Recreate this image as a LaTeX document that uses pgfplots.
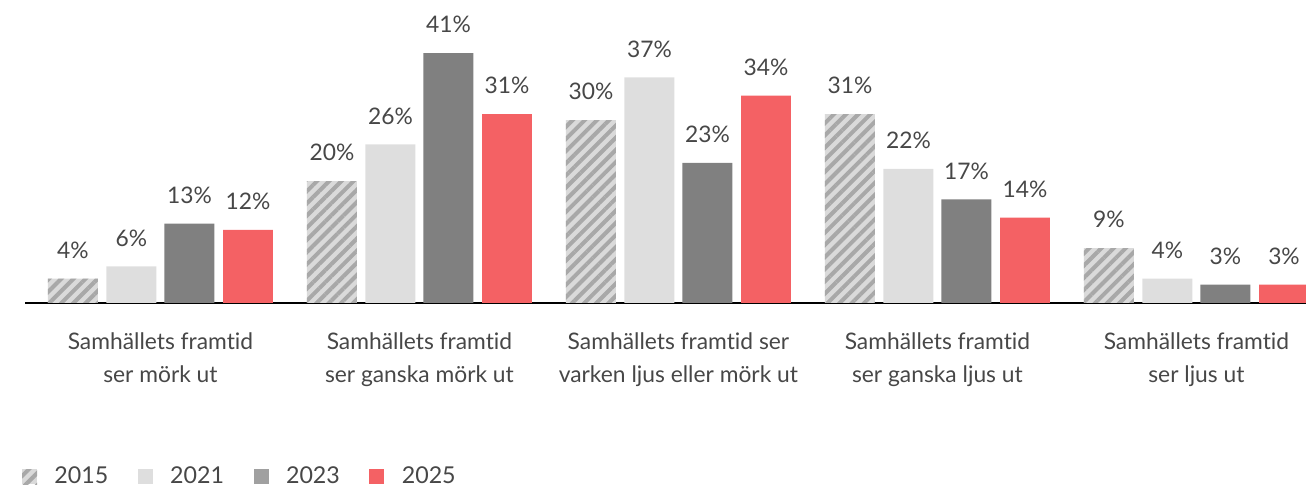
\documentclass[border=0pt]{standalone}
\usepackage{fontspec}
\setmainfont{Lato}[Ligatures=NoCommon]
\usepackage{pgfplots}
\pgfplotsset{compat=1.18}
\usetikzlibrary{patterns.meta}

\definecolor{txt}{HTML}{474747}
\definecolor{hatchbg}{HTML}{DADADA}
\definecolor{hatchfg}{HTML}{A8A8A8}
\definecolor{c2021}{HTML}{DEDEDE}
\definecolor{c2023}{HTML}{808080}
\definecolor{l2023}{HTML}{A0A0A0}
\definecolor{c2025}{HTML}{F46164}

\begin{document}
\begin{tikzpicture}
% 1 px of the reference = 0.5pt
\useasboundingbox (-12.5pt,-91.5pt) rectangle (640.5pt,151.5pt);
\begin{axis}[
    scale only axis,
    width=640.5pt, height=151.5pt,
    xmin=-0.523, xmax=4.423,
    ymin=0, ymax=49.7,
    ybar, bar width=0.193,
    clip=false,
    axis x line*=bottom,
    axis y line=none,
    axis line style={black, line width=1.3pt},
    xtick={0,1,2,3,4},
    major tick length=0pt,
    xticklabels={
        {Samhällets framtid\\ser mörk ut},
        {Samhällets framtid\\ser ganska mörk ut},
        {Samhällets framtid ser\\varken ljus eller mörk ut},
        {Samhällets framtid\\ser ganska ljus ut},
        {Samhällets framtid\\ser ljus ut}},
    xticklabel style={align=center, anchor=north, inner sep=0pt, yshift=-14.5pt,
        text=txt, font=\fontsize{11.4}{16.5}\selectfont},
    ytick=\empty,
    /pgf/number format/assume math mode=true,
    nodes near coords={\pgfmathprintnumber{\pgfplotspointmeta}\%},
    every node near coord/.append style={font=\fontsize{11.4}{12}\selectfont,
        text=txt, inner sep=0pt, anchor=south, yshift=9.8pt},
    legend columns=4,
    legend style={at={(axis description cs:0,0)}, anchor=west,
        xshift=-1.5pt, yshift=-86.8pt, draw=none, fill=none,
        inner sep=0pt, outer sep=0pt,
        font=\fontsize{11.6}{13}\selectfont, text=txt,
        /tikz/every odd column/.append style={column sep=6.7pt},
        /tikz/every even column/.append style={column sep=12.8pt}},
    legend image code/.code={\fill[#1] (0pt,-3.75pt) rectangle (7.5pt,3.75pt);},
]
\addplot[fill=hatchbg, draw=none, bar shift=-0.338,
    postaction={pattern={Lines[angle=45, distance=4.3pt, line width=2pt]}, pattern color=hatchfg}]
    coordinates {(0,4) (1,20) (2,30) (3,31) (4,9)};
\addplot[fill=c2021, draw=none, bar shift=-0.112]
    coordinates {(0,6) (1,26) (2,37) (3,22) (4,4)};
\addplot[fill=c2023, draw=none, bar shift=0.112,
    legend image code/.code={\fill[l2023] (0pt,-3.75pt) rectangle (7.5pt,3.75pt);}]
    coordinates {(0,13) (1,41) (2,23) (3,17) (4,3)};
\addplot[fill=c2025, draw=none, bar shift=0.338]
    coordinates {(0,12) (1,31) (2,34) (3,14) (4,3)};
\legend{2015,2021,2023,2025}
\end{axis}
\end{tikzpicture}
\end{document}
